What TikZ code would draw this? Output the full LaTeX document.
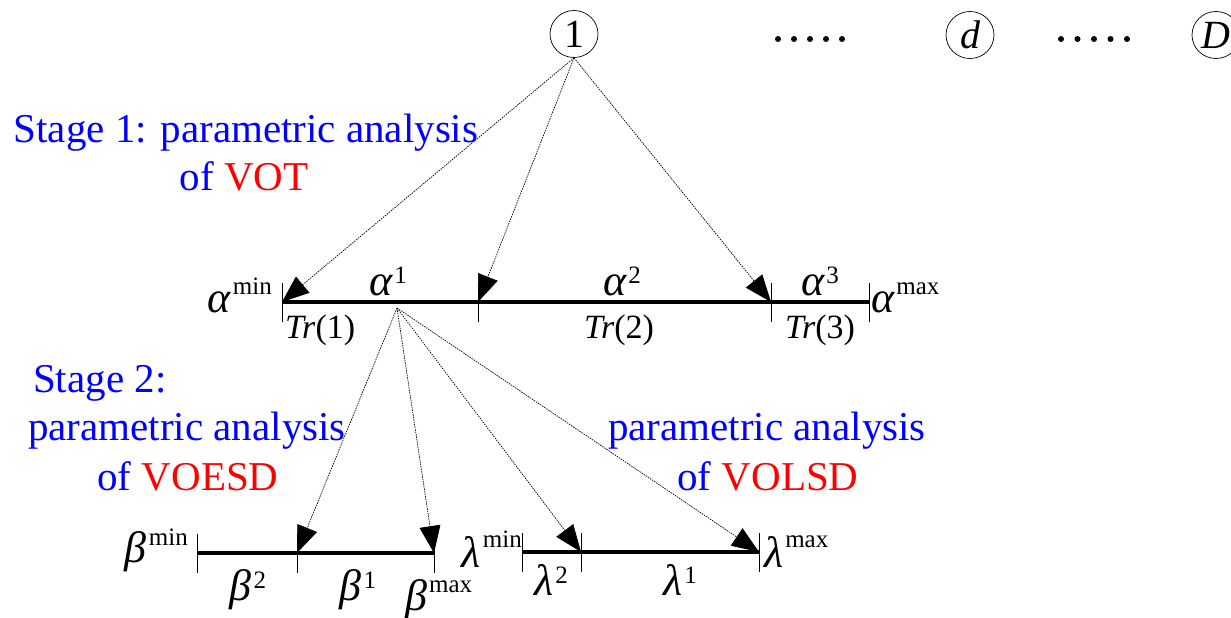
\documentclass[tikz,border=0pt]{standalone}
\usepackage{fontspec}
\setmainfont{Liberation Serif}
\usetikzlibrary{arrows.meta,shapes.geometric}
\newcommand\symsup[3]{{\fontsize{44}{44}\selectfont\itshape #1}\kern2pt\raisebox{#3}{\fontsize{25}{25}\selectfont #2}}
\begin{document}
\begin{tikzpicture}[x=1pt,y=-1pt]
\tikzset{
 lab/.style={inner sep=0pt, font=\fontsize{34}{34}\selectfont},
 stagetxt/.style={inner sep=0pt, anchor=base, font=\fontsize{41}{41}\selectfont, text=blue},
 bar/.style={line width=4.5pt},
 tickmark/.style={line width=0.6pt},
 conn/.style={dash pattern=on 1.5pt off 1pt, line width=0.7pt, -{Triangle[length=27pt,width=21pt]}},
 dimcirc/.style={ellipse, draw, line width=0.7pt, minimum width=48pt, minimum height=47pt, inner sep=0pt, font=\fontsize{40}{40}\selectfont},
 bigdot/.style={circle, fill, inner sep=0pt, minimum size=6pt}
}
\useasboundingbox (0,0) rectangle (1231,618);

% top circles and dots
\node[dimcirc] (c1) at (574,34) {1};
\node[dimcirc] (cd) at (970,35) {\itshape d};
\node[dimcirc] (cD) at (1216,35) {\itshape D};
\foreach \i in {0,...,4} {
  \node[bigdot] (da\i) at (778+16*\i,39) {};
  \node[bigdot] (db\i) at (1061+16.5*\i,39) {};
}

% alpha axis
\coordinate (a0) at (282,302);
\coordinate (a1) at (478,302);
\coordinate (a2) at (771,302);
\coordinate (a3) at (869,302);
\draw[bar] (a0) -- (a3);
\foreach \p in {a0,a1,a2,a3} \draw[tickmark] (\p) ++(0,-19) -- ++(0,39);

\draw[conn] (c1.south) -- (a0);
\draw[conn] (c1.south) -- (a1);
\draw[conn] (c1.south) -- (a2);

\node[lab, anchor=base east] (amin) at (272,312) {\symsup{α}{min}{18pt}};
\node[lab, anchor=base] (al1) at (388,295) {\symsup{α}{1}{12pt}};
\node[lab, anchor=base] (al2) at (622,295) {\symsup{α}{2}{12pt}};
\node[lab, anchor=base] (al3) at (820,295) {\symsup{α}{3}{12pt}};
\node[lab, anchor=base west] (amax) at (871,312) {\symsup{α}{max}{18pt}};
\node[lab, anchor=base west] (tr1) at (285,338) {\textit{Tr}(1)};
\node[lab, anchor=base] (tr2) at (619,338) {\textit{Tr}(2)};
\node[lab, anchor=base] (tr3) at (820,338) {\textit{Tr}(3)};

% beta and lambda axes
\coordinate (s2) at (397,308);
\coordinate (b0) at (197,553);
\coordinate (b1) at (297,553);
\coordinate (b2) at (434,553);
\coordinate (l0) at (522,552);
\coordinate (l1) at (581,552);
\coordinate (l2) at (759,552);
\draw[bar] (b0) -- (b2);
\draw[bar] (l0) -- (l2);
\foreach \p in {b0,b1,b2,l0,l1,l2} \draw[tickmark] (\p) ++(0,-19) -- ++(0,39);

\draw[conn] (s2) -- (b1);
\draw[conn] (s2) -- (b2);
\draw[conn] (s2) -- (l1);
\draw[conn] (s2) -- (l2);

\node[lab, anchor=base east] (bmin) at (188,562) {\symsup{β}{min}{17pt}};
\node[lab, anchor=base] (be2) at (248,600) {\symsup{β}{2}{12pt}};
\node[lab, anchor=base] (be1) at (358,600) {\symsup{β}{1}{12pt}};
\node[lab, anchor=base west] (bmax) at (405,610) {\symsup{β}{max}{18pt}};
\node[lab, anchor=base east] (lmin) at (522,567) {\symsup{λ}{min}{20pt}};
\node[lab, anchor=base] (la2) at (551,595) {\symsup{λ}{2}{12pt}};
\node[lab, anchor=base] (la1) at (680,595) {\symsup{λ}{1}{12pt}};
\node[lab, anchor=base west] (lmax) at (764,567) {\symsup{λ}{max}{20pt}};

% stage texts
\node[stagetxt] (s1a) at (246,142) {Stage 1: parametric analysis};
\node[stagetxt] (s1b) at (244,190) {of \textcolor{red}{VOT}};
\node[stagetxt, anchor=base west] (s2a) at (33,392) {Stage 2:};
\node[stagetxt] (s2b) at (187,440) {parametric analysis};
\node[stagetxt] (s2c) at (188,490) {of \textcolor{red}{VOESD}};
\node[stagetxt] (s3b) at (767,440) {parametric analysis};
\node[stagetxt] (s3c) at (768,490) {of \textcolor{red}{VOLSD}};
\end{tikzpicture}
\end{document}
